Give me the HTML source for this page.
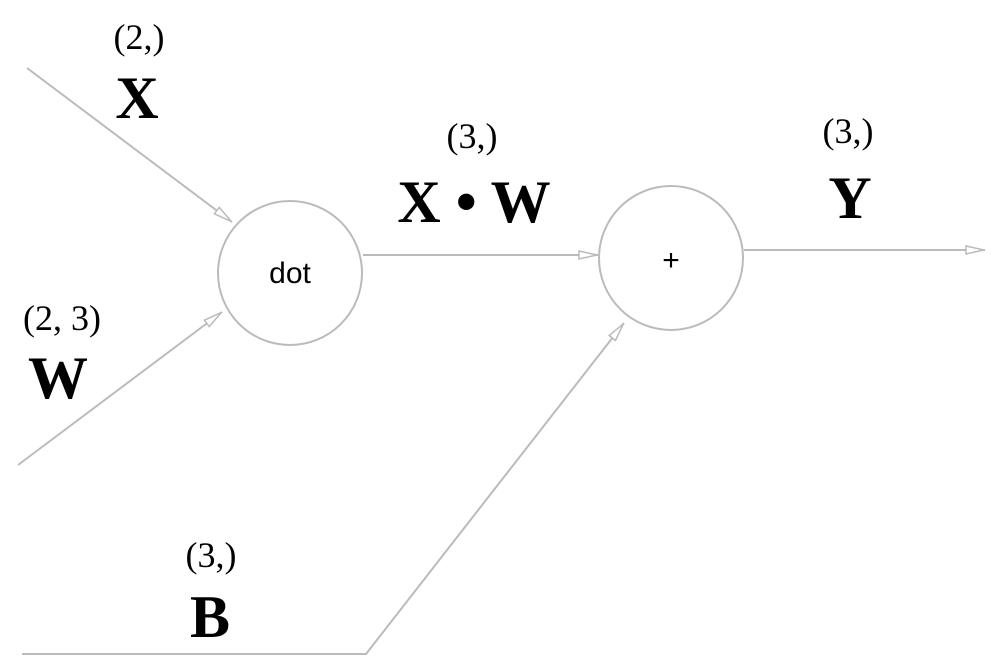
<!DOCTYPE html>
<html><head><style>body{margin:0;background:#fff}</style></head><body>
<svg width="998" height="666" xmlns="http://www.w3.org/2000/svg" font-family="Liberation Serif, serif">
<defs><marker id="a" viewBox="0 0 20 10" refX="20" refY="5" markerWidth="20" markerHeight="10" markerUnits="userSpaceOnUse" orient="auto"><path d="M1,1 L19,5 L1,9 Z" fill="#fff" stroke="#bbb" stroke-width="1.5"/></marker></defs>
<g stroke="#bbb" stroke-width="2" fill="none">
<circle cx="290" cy="273" r="72"/>
<circle cx="671" cy="258" r="72"/>
<line x1="27" y1="68" x2="232" y2="222" marker-end="url(#a)"/>
<line x1="18" y1="465" x2="222" y2="312" marker-end="url(#a)"/>
<line x1="363" y1="255" x2="598" y2="255" marker-end="url(#a)"/>
<polyline points="22,654 366,654 624,323" marker-end="url(#a)"/>
<line x1="744" y1="250" x2="985" y2="250" marker-end="url(#a)"/>
</g>
<text x="290" y="283" font-family="Liberation Sans, sans-serif" font-size="30" text-anchor="middle">dot</text>
<text x="671" y="270" font-family="Liberation Sans, sans-serif" font-size="30" text-anchor="middle">+</text>
<g text-anchor="middle">
<text x="139" y="49" font-size="36">(2,)</text>
<text x="137" y="118" font-size="60" font-weight="bold">X</text>
<text x="472" y="148" font-size="36">(3,)</text>
<text x="474" y="222" font-size="60" font-weight="bold">X • W</text>
<text x="848" y="143" font-size="36">(3,)</text>
<text x="850" y="218" font-size="60" font-weight="bold">Y</text>
<text x="62" y="330" font-size="36">(2, 3)</text>
<text x="58" y="398" font-size="60" font-weight="bold">W</text>
<text x="211" y="567" font-size="36">(3,)</text>
<text x="210" y="637" font-size="60" font-weight="bold">B</text>
</g>
</svg>
</body></html>
